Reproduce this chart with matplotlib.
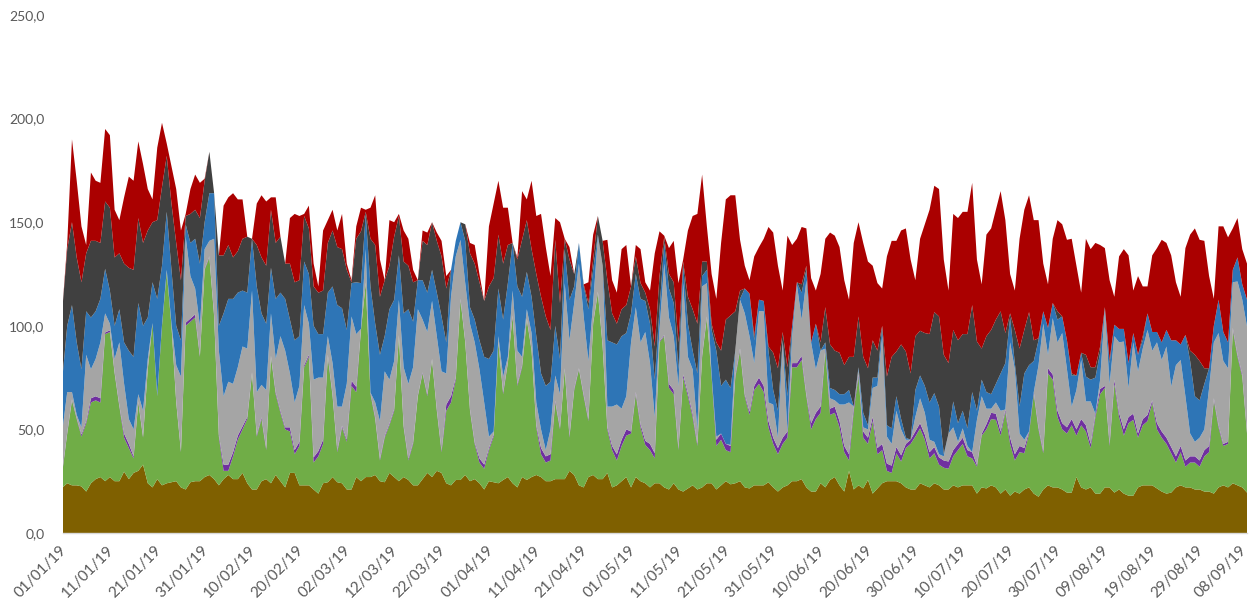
import numpy as np
import matplotlib
matplotlib.use('Agg')
import matplotlib.pyplot as plt
from matplotlib.transforms import ScaledTranslation

# upper edge of each stacked band (01/01/19 - 08/09/19)
brown = [
    22,24,23,23,22.5,20,24,26,27,25,
    27,25,25,29.6,26,29,30,33,24,22,
    26,23,24,24.5,25,22,21,24.5,25,25,
    27,28,26,23,26,28,26,26,29,24,
    21,21,25,26,24,28,25,22,29,29,
    23,23,23,21,19,24,24.5,27,24.5,24,
    21,21,27,25,27,27,28,25,24.5,29,
    27,25,27,25.6,23,23,26,29,27,30,
    29,24,23,25.6,25.6,28,25,26,24,21,
    25,24.5,24,25.6,27,24,22,27,25.6,27,
    28,27,25,25,26,26,26,30,28,23,
    22,27,28,26,26,29,22,23,25,27,
    22,27,25,24,22,24,24,22,21,24,
    21,20,21.5,23,21,22,24,24,21,23,
    25,23.5,24,25,22,21.5,23,23,23,24.5,
    22,20,22,23,25,25,26,22,20,20,
    24,22,25.6,27,23,20,30,21,23,21.5,
    25.6,19,21.5,24,25,25,25,24,22,21,
    21,24,23,22,24,23,21,21,23,22,
    23,23,23,19,22,21.5,23,22,19,21,
    18,20,19,21,22,19,17.5,21,23,22,
    22,21,19.5,19.5,27,22,21,22,19,19,
    22,22,19.5,21,19,18,18,22,23,23,
    23,21.5,20,19,19.5,22,23,22,22,21,
    21,20,20,19,22,23,22,24,23,22,19.5]

green_top = [
    30,48,64,55,46.5,53,63,64,63,96,
    97,77,61,46,41,36,63,46,79,101,
    66,100,126,100,63,39,100,102,104,85,
    127,133,104.5,46.5,30,30,37,45,50,55,
    77,46.5,55,40,85,67,58,50,49,38,
    42,80,85,34,37,43,85,66,39,51,
    44,71,68,98,120.6,67,55,35,46,52,
    59,95,51,35,43,66,77,66,83.5,59,
    39,59,63,74,112.5,92,59,43,34,31,
    40,46.5,92,67,82,104.5,71,80,103,88,
    51,38,34,35,63,50,79,46,69,79,
    66,54,101,116,90,50,40,35,42,47,
    48,67,51,42.5,40,36,92,95,70,67,
    40,75,66,56,42,85,104,75.5,42,45,
    40,39,75,88,66,57,69,72,68,51,
    43,38,43,46,80,80,83.5,66,50,55,
    58,88,57,58,51,39,35,59,75.5,46,
    43,54,38,40,30,29,38.5,34.5,41,43,
    46.5,50.5,45,36,38.5,33,31.5,31,37,40,
    43,37,36,32,47,50,55,54.6,47,58.6,
    43,35,39,38.5,48,67,50,38.5,77,74,
    56,50,48,52,47,52,49,41,56,67,
    70,42,72,56,47,53,54.6,46,52,54,
    63,50,46,43,38.5,34,39,32,34,34,
    32,37,39,64,51,42,43,98,85,75.5,48]

purple = [
    .5,.5,.5,.5,1,1,2,2,2,.8,
    .8,.6,.6,2,2,1,.5,.5,.5,.3,
    .3,.3,.3,.3,.5,.5,1.5,1.5,1.5,.5,
    .5,.5,.5,1,3,3,2,2,1.5,1,
    .5,.8,.8,.8,.5,1,1,1,2,2,
    2,1,1,2.5,2.5,2,1,.8,.8,.8,
    1,2.5,2.5,.5,.3,.8,.8,.8,.8,.8,
    .8,.5,.8,.8,.8,.5,.5,.8,.5,.8,
    .8,3,3,1,.5,.5,.8,.8,2,2,
    1,1,.5,.8,.5,.5,.8,.8,.5,.5,
    1,3,3,3,.8,.8,.5,.8,.8,.5,
    .8,.8,.5,.5,.5,1,2,3,3,3,
    1,1,1.5,2,3,2.5,.5,.5,2,2,
    .8,1.5,1.5,1.5,1,.8,.5,.8,3,3,
    3,3,1,1,1,1.5,2,3,3,3,
    3,3,3,3,2,2,2,.8,3,3,
    3,1,3,3,3,3,3,2,1,3,
    3,2,3,3,3.5,3.5,3,3,2,2,
    2.5,2.5,2.5,3,3,3.5,3.5,3.5,3,3,
    3,3,3,.8,.8,2.5,3,3,2,1,
    3,3,3,2.5,1,1,1,1,2.5,2.5,
    3,3,3,3,3,3,3,2,1.5,2.5,
    1,1,2,2,3,3,3,2,3,3,
    1,3,3,3,3,3,3,3,3,3,
    3,3,3,1,1,1,1,1,1,1,.5]

gray_top = [
    50,68,68,57,51,86,79,84,92,106,
    101,84,92,72,55,50,67,59,84,101,
    66,95,127,101,81,75.5,143,124,118,100,
    137,141,142,88,66,73,72,80,90,89,
    117,68,71.5,69,106,84,95,88,77,63,
    71,110,101,74,75,75,95,82,61,61,
    72,104.5,96,96.5,137,67,63,54,78,74,
    83,112.5,80,72,80,108,103,97,112,95,
    78,77,114,133.5,141.5,120.6,101,92,79,63,
    46.5,49,95,75.5,85,117,88,85,108,96.5,
    63,50,40,50,76,67,120.6,93,111,130,
    104.5,83,111,143,129,61,61,62,60,66,
    92,109,92,97,82,56,98,130,104,95,
    71,120.6,85,79,50,119,120.6,75.5,46.5,44,
    43,42.5,88,112.6,106,95,82,107,107,63,
    62,46,92,49,95,120,103,122,92,79,
    88,88,65,64,62,62,63,57,79,51,
    50,70,71,95,46.5,43,59,50,45,45,
    56,65,58,45,44,38,37,48,51,44,
    50.5,42,39,54.6,66,60,60,63,59,56,
    92,79,48,45,45,67,81,101,86,103.7,
    92,96.5,79,61,69,83.5,63.5,63.5,55,74,
    108,72,95,92,92.4,70,92,78,89,98,
    88,92,83.5,90,70.7,81,83.5,66,48,44,
    46,50,70,92,96.5,83,79.5,121,121.4,112.6,99.7]

blue_top = [
    75.5,100,110,92,79,107,104,107,113,127.5,
    117,100,108,92,88,85,111,100,104,121,
    113,129,155,127,100,93,149,140,142,130,
    150,164,164,100,106,113,113,116,117,116,
    142,119,106,101,128,113,116,113,103,93,
    95,131,125,100,96,96,116,119,110,108.5,
    98,120.6,121,120.6,154,119,101,86,95,108,
    112.5,134,106,108,102,122,122,116,127,116,
    104.5,92,127,141,150,141,109,103,93,85,
    84,88,118,103,120.6,140,119,114,126,114,
    95,77,71,73,100,84,137,112.5,119,140,
    119,108,127,144,129,93,92,91,95,96.5,
    106,125,113,112,101,74,108,140,118,111,
    79,129,101,88,77,124,127,98,88,71,
    74,70,72,113,118,115.5,93,112.6,112,88,
    69,59,93,66,100,121,116,127,92,101,
    80,92,70,69,67,67,69,61,80,58,
    52,75,75,100,52,50.5,66,55,46,45,
    69,76,71,63,67.5,61,38,46.5,63.5,53,
    59,50.5,68,59,74,68,67,72,77,82,
    104,82,61,77,81,83,93,107,99,111,
    103,104.5,93,76,76,87,75.5,74,75,87,
    109,82,100.5,98.5,98.5,82,96.5,86,93,106,
    97,97,92,98,93,93,91,95.6,83,66,
    64,72,79.5,100,112.6,97,92,127,133,120,112.6]

dark_top = [
    109,137,150,133,121,135,141,141,140,160,
    157,133,135,130,128,127,152,140,146,150,
    151,167,182,159,140,122,153,154,156,152,
    170,184,164,134,134,139,133,136,142,143,
    142,139,133,129,156,140,143,130,130,121,
    122,153,147,119,116,117,140,146,138,137,
    127,121,142,145.6,155,142,139,114,122,129,
    143,153,131,129,121,122,141,139,150,141,
    133.5,118,121,141,150,149,135,130,121,112,
    119,123,144,130,139,140,132,141.5,151,137,
    125,114,104.5,98,141.5,111,142,132,125,140,
    120,111,132,153,141,122,106,101,108,110,
    119,133.5,120.6,116,108,90,124,143,125,121,
    92,131,114,108,101,131,131,101,92,88,
    103,105,107,117,118,115.5,95,112.6,112,90,
    87,79.5,97,80,100,121,120,129,92,101,
    92,109,91,88,87,81,85,85,104.5,85,
    79.5,93,88,100,75.5,85,87.6,91,87.6,77,
    95,97.6,96.5,96,106.6,104.5,86,82,98,93,
    96,96,110,92.4,89,95,98,103,107,96.5,
    106,98,89,98,106.6,93,94,107,99,111,
    107,104.5,93,77,76,87,86,80,80,90,
    109,83.5,100.5,98.5,98.5,82,96.5,86,95,106,
    97,97,92,98,93,93,91,95.6,88,86,
    83,79.5,79,100,112.6,97,92,127,133,120,112.6]

total = [
    109,140,190,170,148,139,174,170,169,195,
    192,156,151,162,172,170,189,178,166,161,
    186,198,188,177,166,146,154,166,173,169,
    171,184,164,134,158,162,164,161,161,143,
    142,159,163,160,162,162,143,130,152,154,
    153,154,158,130,119,146,151,156,146,154,
    130,122,148,157,156,157,163,132,122,151,
    150,154,146,142,127,122,146,145,150,145,
    141,124,121,141,150,149,140,139,125,112,
    148,159,170,157,157,140,133,165,161,170,
    153,154,138,124,152,150,142,138,125,140,
    120,121,144,153,141,141.5,122,116,137,139,
    119,139,137,121,117,135,145.6,143.5,137.5,141,
    120.6,132,146,153,154,173,148,125,113,140,
    161,163,163,141.5,129,122,133.5,138,142,147.7,
    145,129,117,143.5,139,142,147.7,147,123,117,
    125,142,145,143.5,138,122,112.6,140,150,140,
    131,129,120.6,118,133.5,141,141,146,147,132,
    122,142,149,156,167.6,166,132,117,154,152,
    155,155,169,132,120,144,147,156,165,151,
    125,117,142,156,163,151,151,130,120,142,
    151,149,141.5,142,129,116,142,137,140,139,
    137.5,122,114,133.5,137,134,117,124,119,119,
    134,137.5,141.5,140,134,121,114,137.5,144,147,
    141.5,141,124,113,148,148,142.7,147,152,137,130]

tick_labels = ['01/01/19', '11/01/19', '21/01/19', '31/01/19', '10/02/19', '20/02/19',
               '02/03/19', '12/03/19', '22/03/19', '01/04/19', '11/04/19', '21/04/19',
               '01/05/19', '11/05/19', '21/05/19', '31/05/19', '10/06/19', '20/06/19',
               '30/06/19', '10/07/19', '20/07/19', '30/07/19', '09/08/19', '19/08/19',
               '29/08/19', '08/09/19']
y_ticks = [0, 50, 100, 150, 200, 250]

colors = ['#7F6000', '#70AD47', '#7030A0', '#A5A5A5', '#2E75B6', '#404040', '#AA0000']

plt.rcParams['font.family'] = ['Lato', 'DejaVu Sans']

days = np.arange(len(total))

# stack the edges, then turn them into band heights for stackplot
green_edge = np.maximum(green_top, brown)
purple_edge = green_edge + np.array(purple)
edges = [np.array(brown, dtype=float), green_edge, purple_edge]
for top in [gray_top, blue_top, dark_top, total]:
    edges.append(np.maximum(top, edges[-1]))
bands = [edges[0]] + [edges[i] - edges[i - 1] for i in range(1, len(edges))]

fig = plt.figure(figsize=(12.49, 6.08), dpi=100)
ax = fig.add_axes([62.5 / 1249, 1 - 533 / 608, (1247 - 62.5) / 1249, (533 - 15) / 608])
ax.stackplot(days, bands, colors=colors, linewidth=0)

ax.set_xlim(0, 250)
ax.set_ylim(0, 250)
ax.set_xticks(days[::10])
ax.set_xticklabels(tick_labels, rotation=45, ha='right', rotation_mode='anchor',
                   fontsize=11, color='#595959')
ax.set_yticks(y_ticks)
ax.set_yticklabels([('%.1f' % v).replace('.', ',') for v in y_ticks], fontsize=10, color='#595959')
ax.tick_params(length=0)
ax.tick_params(axis='x', pad=7)
ax.tick_params(axis='y', pad=13)
for side in ['top', 'left', 'right']:
    ax.spines[side].set_visible(False)
ax.spines['bottom'].set_color('#D9D9D9')
ax.spines['bottom'].set_linewidth(1)

# the date labels sit a little left of their ticks, the last one more so it stays inside the figure
xlabels = ax.get_xticklabels()
for label in xlabels:
    px = -8 if label is xlabels[-1] else -3
    label.set_transform(label.get_transform() + ScaledTranslation(px / 100, 0, fig.dpi_scale_trans))

fig.savefig('out.png', dpi=100)
